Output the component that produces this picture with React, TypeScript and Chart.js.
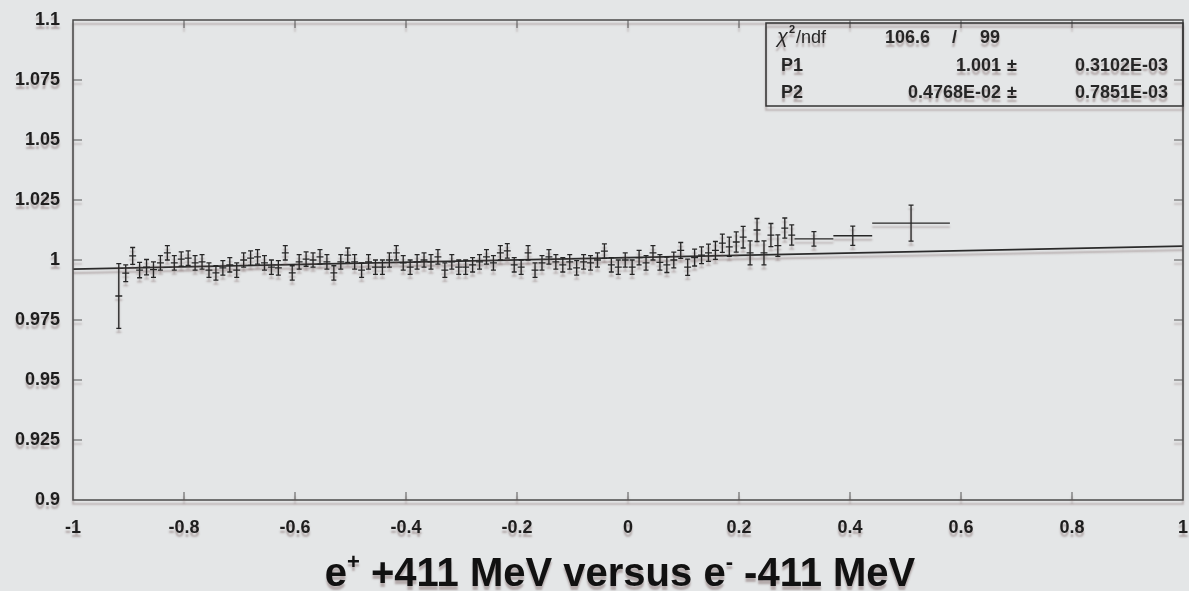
import React, { useEffect, useRef } from 'react';
import Chart from 'chart.js/auto';

// ---- data ----
const binX = [
  -0.9175, -0.905, -0.8925, -0.88, -0.8675, -0.855, -0.8425, -0.83, -0.8175, -0.805,
  -0.7925, -0.78, -0.7675, -0.755, -0.7425, -0.73, -0.7175, -0.705, -0.6925, -0.68,
  -0.6675, -0.655, -0.6425, -0.63, -0.6175, -0.605, -0.5925, -0.58, -0.5675, -0.555,
  -0.5425, -0.53, -0.5175, -0.505, -0.4925, -0.48, -0.4675, -0.455, -0.4425, -0.43,
  -0.4175, -0.405, -0.3925, -0.38, -0.3675, -0.355, -0.3425, -0.33, -0.3175, -0.305,
  -0.2925, -0.28, -0.2675, -0.255, -0.2425, -0.23, -0.2175, -0.205, -0.1925, -0.18,
  -0.1675, -0.155, -0.1425, -0.13, -0.1175, -0.105, -0.0925, -0.08, -0.0675, -0.055,
  -0.0425, -0.03, -0.0175, -0.005, 0.0075, 0.02, 0.0325, 0.045, 0.0575, 0.07,
  0.0825, 0.095, 0.1075, 0.12, 0.1325, 0.145, 0.1575, 0.17, 0.1825, 0.195,
  0.2075, 0.22, 0.2325, 0.245, 0.2575, 0.27, 0.2825, 0.295,
];
const binHalfWidth = [0.00625];
const binY = [
  0.985, 0.9945, 1.0017, 0.9958, 0.997, 0.996, 0.9988, 1.003, 0.9988, 1.0004,
  1.0008, 0.9988, 0.9992, 0.9958, 0.9946, 0.9967, 0.998, 0.9958, 1.0, 1.0008,
  1.0013, 0.9988, 0.997, 0.9967, 1.003, 0.9946, 0.9992, 1.0004, 1.0, 1.0013,
  0.9992, 0.9946, 0.9992, 1.002, 0.9992, 0.9958, 0.9992, 0.997, 0.997, 1.0,
  1.003, 0.9988, 0.997, 0.9992, 1.0, 0.9992, 1.0013, 0.9958, 0.9992, 0.997,
  0.997, 0.998, 0.9992, 1.0013, 0.9988, 1.003, 1.0038, 0.998, 0.997, 1.003,
  0.9958, 0.9988, 1.0013, 0.9992, 0.998, 0.9992, 0.9967, 0.9992, 0.9988, 1.0,
  1.0037, 0.998, 0.997, 1.0, 0.997, 1.001, 0.9988, 1.003, 0.999, 0.998,
  1.0, 1.004, 0.997, 1.001, 1.002, 1.003, 1.004, 1.007, 1.0055, 1.0075,
  1.0095, 1.003, 1.0125, 1.003, 1.0104, 1.006, 1.0133, 1.0104,
];
const binErr = [
  0.0135, 0.0035, 0.0035, 0.0032, 0.0032, 0.0032, 0.003, 0.003, 0.003, 0.003,
  0.003, 0.003, 0.003, 0.003, 0.003, 0.003, 0.003, 0.003, 0.003, 0.003,
  0.003, 0.003, 0.003, 0.003, 0.003, 0.003, 0.003, 0.003, 0.003, 0.003,
  0.003, 0.003, 0.003, 0.003, 0.003, 0.003, 0.003, 0.003, 0.003, 0.003,
  0.003, 0.003, 0.003, 0.003, 0.003, 0.003, 0.003, 0.003, 0.003, 0.003,
  0.003, 0.003, 0.003, 0.003, 0.003, 0.003, 0.003, 0.003, 0.003, 0.003,
  0.003, 0.003, 0.003, 0.003, 0.003, 0.003, 0.003, 0.003, 0.003, 0.003,
  0.003, 0.003, 0.003, 0.003, 0.003, 0.003, 0.003, 0.003, 0.0032, 0.0032,
  0.0033, 0.0033, 0.0034, 0.0035, 0.0035, 0.0036, 0.0037, 0.0038, 0.004, 0.0042,
  0.0045, 0.005, 0.0048, 0.005, 0.0048, 0.0045, 0.0042, 0.0042,
];
const wideX = [0.335, 0.405, 0.51];
const wideHalfWidth = [0.035, 0.035, 0.07];
const wideY = [1.0088, 1.0101, 1.0154];
const wideErr = [0.003, 0.004, 0.0075];

const fitX = [-1, 1];
const fitY = [0.9962, 1.0058];

const xTickStep = 0.2;
const yTickStep = 0.025;

const statsRows = [
  { name: 'P1', value: '1.001', error: '0.3102E-03' },
  { name: 'P2', value: '0.4768E-02', error: '0.7851E-03' },
];
const chi2 = '106.6';
const ndf = '99';

const BG = '#e4e6e7';
const INK = '#262626';
const FONT = '"Liberation Sans", Arial, Helvetica, sans-serif';

const fmt = (v: number) => String(parseFloat(v.toFixed(3)));

function setShadow(ctx: CanvasRenderingContext2D) {
  ctx.shadowColor = 'rgba(120,95,95,0.45)';
  ctx.shadowBlur = 2;
  ctx.shadowOffsetX = 0;
  ctx.shadowOffsetY = 4;
}

const drawPlugin = {
  id: 'rootStyle',
  beforeDraw(chart: any) {
    const { ctx, width, height } = chart;
    ctx.save();
    ctx.fillStyle = BG;
    ctx.fillRect(0, 0, width, height);
    ctx.restore();
    ctx.save();
    setShadow(ctx);
  },
  afterDatasetsDraw(chart: any) {
    const { ctx, chartArea } = chart;
    const xs = chart.scales.x;
    const ys = chart.scales.y;
    const { left, right, top, bottom } = chartArea;

    ctx.save();
    ctx.strokeStyle = INK;
    ctx.lineWidth = 1.3;
    const drawPoint = (x: number, y: number, hw: number, err: number) => {
      const px = xs.getPixelForValue(x);
      const py = ys.getPixelForValue(y);
      const xl = xs.getPixelForValue(x - hw);
      const xr = xs.getPixelForValue(x + hw);
      const yt = ys.getPixelForValue(y + err);
      const yb = ys.getPixelForValue(y - err);
      ctx.beginPath();
      ctx.moveTo(xl, py);
      ctx.lineTo(xr, py);
      ctx.moveTo(px, yt);
      ctx.lineTo(px, yb);
      ctx.moveTo(px - 2.5, yt);
      ctx.lineTo(px + 2.5, yt);
      ctx.moveTo(px - 2.5, yb);
      ctx.lineTo(px + 2.5, yb);
      ctx.stroke();
    };
    binX.forEach((x, i) => drawPoint(x, binY[i], binHalfWidth[0], binErr[i]));
    wideX.forEach((x, i) => drawPoint(x, wideY[i], wideHalfWidth[i], wideErr[i]));

    // frame
    ctx.strokeStyle = '#4a4a4a';
    ctx.lineWidth = 1.5;
    ctx.strokeRect(left, top, right - left, bottom - top);

    // inward ticks on all four sides
    ctx.lineWidth = 1;
    ctx.strokeStyle = '#555';
    ctx.beginPath();
    xs.ticks.forEach((t: any) => {
      const p = xs.getPixelForValue(t.value);
      if (p <= left + 1 || p >= right - 1) return;
      ctx.moveTo(p, bottom);
      ctx.lineTo(p, bottom - 8);
      ctx.moveTo(p, top);
      ctx.lineTo(p, top + 8);
    });
    ys.ticks.forEach((t: any) => {
      const p = ys.getPixelForValue(t.value);
      if (p <= top + 1 || p >= bottom - 1) return;
      ctx.moveTo(left, p);
      ctx.lineTo(left + 9, p);
      ctx.moveTo(right, p);
      ctx.lineTo(right - 9, p);
    });
    ctx.stroke();

    // stats box
    const bx = 766, by = 23, bw = right - 766, bh = 83;
    ctx.strokeStyle = '#333';
    ctx.lineWidth = 1.5;
    ctx.strokeRect(bx, by, bw, bh);
    ctx.fillStyle = INK;
    ctx.textBaseline = 'alphabetic';
    ctx.textAlign = 'left';
    ctx.font = `italic 20px ${FONT}`;
    ctx.fillText('χ', 777, 43);
    ctx.font = `bold 11px ${FONT}`;
    ctx.fillText('2', 789, 33);
    ctx.font = `18px ${FONT}`;
    ctx.fillText('/ndf', 796, 43);
    ctx.font = `bold 18px ${FONT}`;
    ctx.fillText(chi2, 885, 43);
    ctx.fillText('/', 952, 43);
    ctx.fillText(ndf, 980, 43);
    statsRows.forEach((r, i) => {
      const base = 71 + i * 27;
      ctx.textAlign = 'left';
      ctx.fillText(r.name, 781, base);
      ctx.textAlign = 'right';
      ctx.fillText(r.value, 1001, base);
      ctx.textAlign = 'left';
      ctx.fillText('±', 1007, base);
      ctx.textAlign = 'right';
      ctx.fillText(r.error, 1168, base);
    });

    // title with superscripts
    const big = `bold 40px ${FONT}`;
    const small = `bold 22px ${FONT}`;
    const parts: [string, boolean][] = [
      ['e', false], ['+', true], [' +411 MeV versus e', false], ['-', true], [' -411 MeV', false],
    ];
    let total = 0;
    parts.forEach(([s, sup]) => {
      ctx.font = sup ? small : big;
      total += ctx.measureText(s).width;
    });
    let cx = 620 - total / 2;
    ctx.textAlign = 'left';
    ctx.fillStyle = '#111';
    parts.forEach(([s, sup]) => {
      ctx.font = sup ? small : big;
      ctx.fillText(s, cx, sup ? 569 : 586);
      cx += ctx.measureText(s).width;
    });
    ctx.restore();
  },
  afterDraw(chart: any) {
    chart.ctx.restore();
  },
};

export default function App() {
  const ref = useRef<HTMLCanvasElement>(null);
  useEffect(() => {
    document.body.style.margin = '0';
    document.body.style.background = BG;
    const canvas = ref.current!;
    const tickFont = { family: FONT, size: 18, weight: 'bold' as const };
    const chart = new Chart(canvas, {
      type: 'scatter',
      data: {
        datasets: [
          {
            type: 'line',
            data: fitX.map((x, i) => ({ x, y: fitY[i] })),
            borderColor: '#2b2b2b',
            borderWidth: 1.6,
            pointRadius: 0,
            fill: false,
          },
          {
            type: 'scatter',
            data: binX.map((x, i) => ({ x, y: binY[i] })),
            pointRadius: 0,
          },
        ],
      },
      options: {
        responsive: false,
        animation: false,
        devicePixelRatio: 1,
        layout: { padding: { top: 20, right: 6, left: 0, bottom: 0 } },
        plugins: {
          legend: { display: false },
          tooltip: { enabled: false },
          title: { display: false },
        },
        scales: {
          x: {
            type: 'linear',
            min: -1,
            max: 1,
            grid: { display: false, drawTicks: false },
            border: { display: false },
            ticks: {
              stepSize: xTickStep,
              padding: 17,
              color: '#1e1e1e',
              font: tickFont,
              maxRotation: 0,
              autoSkip: false,
              callback: (v: any) => fmt(Number(v)),
            },
            afterFit: (s: any) => {
              s.height = 91;
              s.paddingLeft = 0;
              s.paddingRight = 0;
            },
          },
          y: {
            type: 'linear',
            min: 0.9,
            max: 1.1,
            grid: { display: false, drawTicks: false },
            border: { display: false },
            ticks: {
              stepSize: yTickStep,
              padding: 13,
              color: '#1e1e1e',
              font: tickFont,
              autoSkip: false,
              callback: (v: any) => fmt(Number(v)),
            },
            afterFit: (s: any) => {
              s.width = 73;
              s.paddingTop = 0;
              s.paddingBottom = 0;
            },
          },
        },
      },
      plugins: [drawPlugin],
    });
    return () => chart.destroy();
  }, []);
  return (
    <canvas
      ref={ref}
      width={1189}
      height={591}
      style={{ display: 'block', width: '1189px', height: '591px' }}
    />
  );
}
